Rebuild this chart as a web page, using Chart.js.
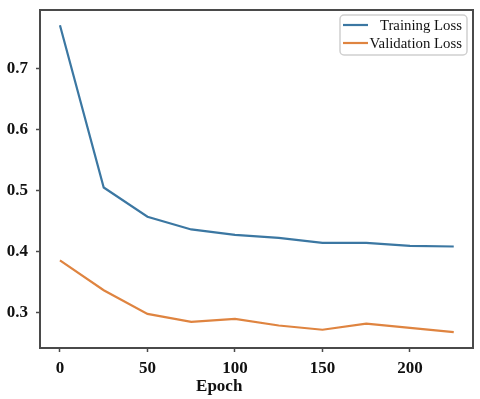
<!DOCTYPE html>
<html>
<head>
<meta charset="utf-8">
<script src="https://cdn.jsdelivr.net/npm/chart.js@4"></script>
<style>
  html, body { margin: 0; padding: 0; background: #fff; }
  #wrap { width: 480px; height: 399px; }
</style>
</head>
<body>
<div id="wrap"><canvas id="lossChart"></canvas></div>
<script>
// Werte
const epochs = [0, 25, 50, 75, 100, 125, 150, 175, 200, 225];
const trainingLoss = [0.772, 0.505, 0.457, 0.436, 0.427, 0.422, 0.414, 0.414, 0.409, 0.408];
const validationLoss = [0.385, 0.336, 0.297, 0.284, 0.289, 0.278, 0.271, 0.281, 0.274, 0.267];
const xTicks = [0, 50, 100, 150, 200];
const yTicks = [0.3, 0.4, 0.5, 0.6, 0.7];
const seriesNames = ['Training Loss', 'Validation Loss'];
const xTitle = 'Epoch';

const serif = "'Liberation Serif', 'Times New Roman', serif";
const frameColor = '#4a4a4a';

// Rahmen um die Zeichenfläche
const framePlugin = {
  id: 'frame',
  afterDatasetsDraw(chart) {
    const { ctx, chartArea: a } = chart;
    ctx.save();
    ctx.strokeStyle = frameColor;
    ctx.lineWidth = 2;
    ctx.strokeRect(a.left, a.top, a.right - a.left, a.bottom - a.top);
    ctx.restore();
  }
};

// Legende oben rechts, Text rechtsbündig wie im Original
const legendPlugin = {
  id: 'boxLegend',
  afterDraw(chart) {
    const { ctx, chartArea: a } = chart;
    const right = a.right - 6, top = a.top + 5;
    const w = 127, h = 40;
    const left = right - w;
    ctx.save();
    ctx.beginPath();
    ctx.roundRect(left, top, w, h, 4);
    ctx.fillStyle = 'rgba(255,255,255,0.9)';
    ctx.fill();
    ctx.strokeStyle = '#cfcfcf';
    ctx.lineWidth = 1.5;
    ctx.stroke();
    ctx.font = '14.8px ' + serif;
    ctx.textAlign = 'right';
    ctx.textBaseline = 'middle';
    chart.data.datasets.forEach((ds, i) => {
      const y = top + 10 + i * 18;
      ctx.strokeStyle = ds.borderColor;
      ctx.lineWidth = 2.2;
      ctx.beginPath();
      ctx.moveTo(left + 3, y);
      ctx.lineTo(left + 28, y);
      ctx.stroke();
      ctx.fillStyle = '#111';
      ctx.fillText(ds.label, right - 5, y + 1);
    });
    ctx.restore();
  }
};

// Achsentitel "Epoch" etwas links von der Mitte
const xTitlePlugin = {
  id: 'xTitle',
  afterDraw(chart) {
    const { ctx } = chart;
    ctx.save();
    ctx.font = 'bold 17px ' + serif;
    ctx.fillStyle = '#111';
    ctx.textAlign = 'center';
    ctx.textBaseline = 'middle';
    ctx.fillText(xTitle, chart.scales.x.getPixelForValue(91), 387);
    ctx.restore();
  }
};

const ctx = document.getElementById('lossChart');

const lossChart = new Chart(ctx, {
  type: 'line',
  data: {
    datasets: [{
      label: seriesNames[0],
      data: epochs.map((e, i) => ({ x: e, y: trainingLoss[i] })),
      borderColor: '#3b77a2',
      borderWidth: 2.2,
      pointRadius: 0,
      tension: 0
    }, {
      label: seriesNames[1],
      data: epochs.map((e, i) => ({ x: e, y: validationLoss[i] })),
      borderColor: '#df8440',
      borderWidth: 2.2,
      pointRadius: 0,
      tension: 0
    }]
  },
  options: {
    responsive: true,
    maintainAspectRatio: false,
    animation: false,
    layout: { padding: { top: 10, right: 7, left: 0, bottom: 0 } },
    plugins: {
      legend: { display: false },
      tooltip: { enabled: false }
    },
    scales: {
      x: {
        type: 'linear',
        min: -11.4,
        max: 236,
        afterBuildTicks: s => { s.ticks = xTicks.map(v => ({ value: v })); },
        afterFit: s => { s.height = 51; s.paddingLeft = 0; s.paddingRight = 0; },
        grid: { drawOnChartArea: false, drawTicks: true, tickLength: 4, color: frameColor, tickWidth: 1.5 },
        border: { display: false },
        ticks: {
          padding: 6,
          color: '#111',
          font: { family: serif, size: 17, weight: 'bold' }
        }
      },
      y: {
        min: 0.241,
        max: 0.797,
        afterBuildTicks: s => { s.ticks = yTicks.map(v => ({ value: v })); },
        afterFit: s => { s.width = 40; s.paddingTop = 0; s.paddingBottom = 0; },
        grid: { drawOnChartArea: false, drawTicks: true, tickLength: 4, color: frameColor, tickWidth: 1.5 },
        border: { display: false },
        ticks: {
          padding: 8,
          color: '#111',
          font: { family: serif, size: 17, weight: 'bold' },
          callback: v => v.toFixed(1)
        }
      }
    }
  },
  plugins: [framePlugin, legendPlugin, xTitlePlugin]
});
</script>
</body>
</html>
